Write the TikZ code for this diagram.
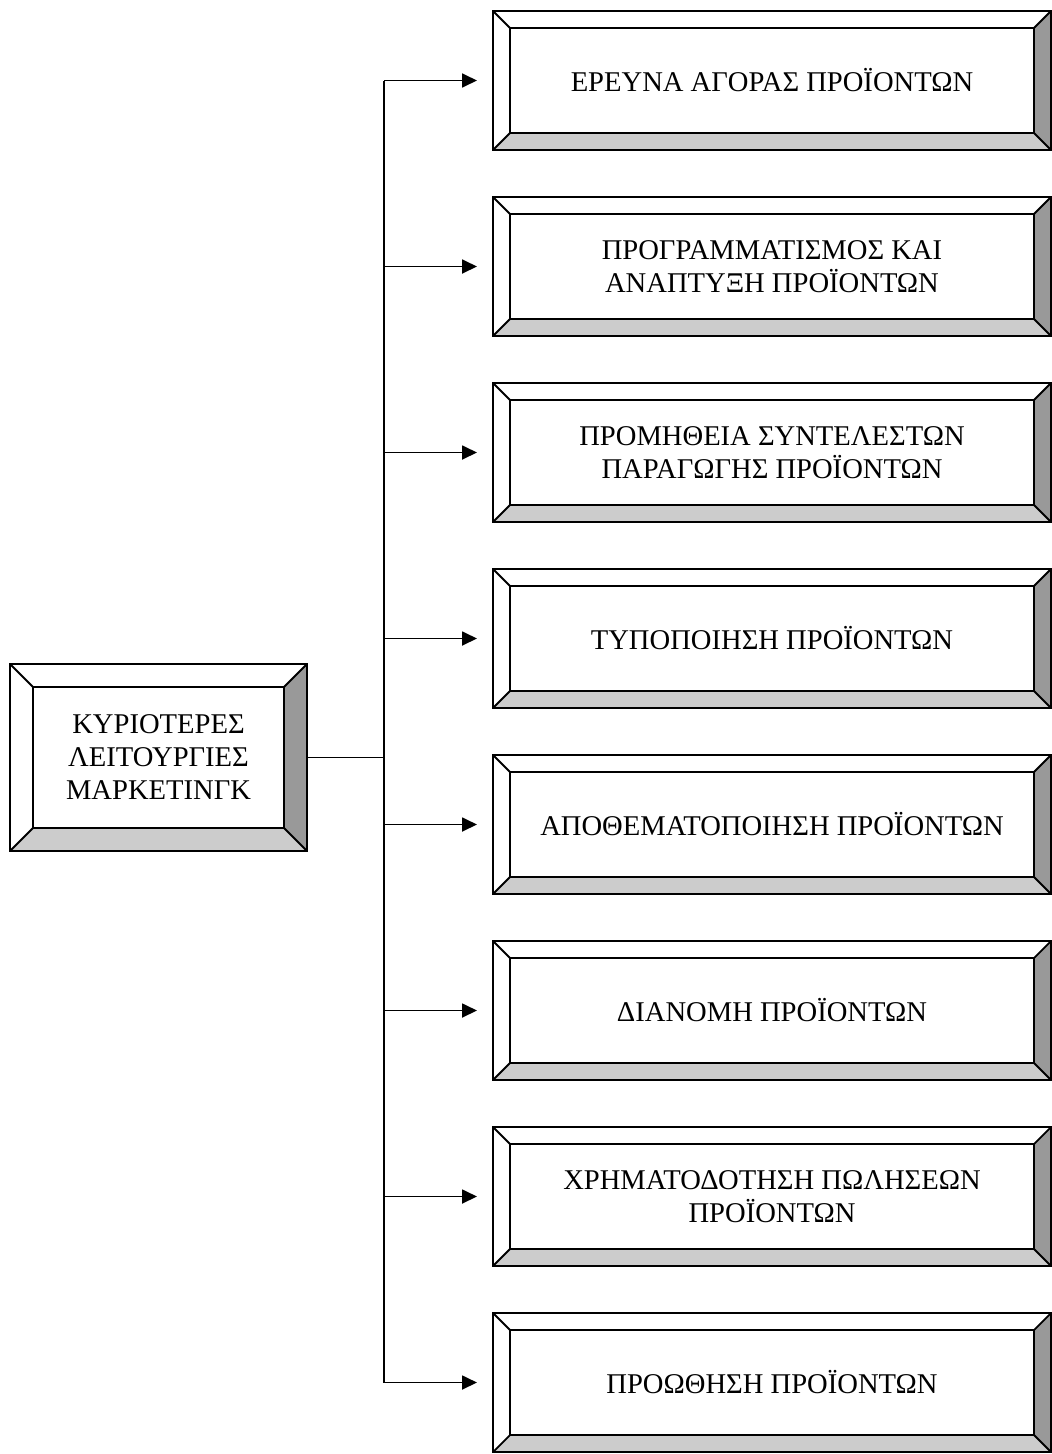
\documentclass[tikz,border=0pt]{standalone}
\usepackage{fontspec}
\setmainfont{Liberation Serif}
\usepackage{xcolor}
\usetikzlibrary{positioning,arrows.meta}

\definecolor{bevchiaro}{HTML}{CCCCCC}
\definecolor{bevscuro}{HTML}{999999}

% cornice a rilievo attorno a un nodo: #1 nome, #2 spessore
\newcommand{\cornice}[2]{%
	\fill[bevchiaro] (#1.south west) -- ([shift={(#2,#2)}]#1.south west) -- ([shift={(-#2,#2)}]#1.south east) -- (#1.south east) -- cycle;
	\fill[bevscuro] (#1.south east) -- ([shift={(-#2,#2)}]#1.south east) -- ([shift={(-#2,-#2)}]#1.north east) -- (#1.north east) -- cycle;
	\draw (#1.south west) rectangle (#1.north east);
	\draw ([shift={(#2,#2)}]#1.south west) rectangle ([shift={(-#2,-#2)}]#1.north east);
	\draw (#1.south west) -- ([shift={(#2,#2)}]#1.south west);
	\draw (#1.south east) -- ([shift={(-#2,#2)}]#1.south east);
	\draw (#1.north west) -- ([shift={(#2,-#2)}]#1.north west);
	\draw (#1.north east) -- ([shift={(-#2,-#2)}]#1.north east);
}

\begin{document}
\begin{tikzpicture}[x=1pt, y=-1pt, line width=1.8pt,
	riquadro/.style={minimum width=558pt, minimum height=139pt, inner sep=0pt, outer sep=0pt, align=center, font=\fontsize{28.6}{33}\selectfont},
	freccia/.style={-{Triangle[length=15pt, width=14pt]}}]
	\useasboundingbox (0,0) rectangle (1052,1454);
	
	% riquadri
	\node[riquadro, minimum width=297pt, minimum height=187pt] (marketing) at (158.5,757.5) {ΚΥΡΙΟΤΕΡΕΣ\\ΛΕΙΤΟΥΡΓΙΕΣ\\ΜΑΡΚΕΤΙΝΓΚ};
	\node[riquadro] (ricerca) at (772,80.5) {ΕΡΕΥΝΑ ΑΓΟΡΑΣ ΠΡΟΪΟΝΤΩΝ};
	\node[riquadro, below=47pt of ricerca] (sviluppo) {ΠΡΟΓΡΑΜΜΑΤΙΣΜΟΣ ΚΑΙ\\ΑΝΑΠΤΥΞΗ ΠΡΟΪΟΝΤΩΝ};
	\node[riquadro, below=47pt of sviluppo] (fornitura) {ΠΡΟΜΗΘΕΙΑ ΣΥΝΤΕΛΕΣΤΩΝ\\ΠΑΡΑΓΩΓΗΣ ΠΡΟΪΟΝΤΩΝ};
	\node[riquadro, below=47pt of fornitura] (tipizzazione) {ΤΥΠΟΠΟΙΗΣΗ ΠΡΟΪΟΝΤΩΝ};
	\node[riquadro, below=47pt of tipizzazione] (scorte) {ΑΠΟΘΕΜΑΤΟΠΟΙΗΣΗ ΠΡΟΪΟΝΤΩΝ};
	\node[riquadro, below=47pt of scorte] (distribuzione) {ΔΙΑΝΟΜΗ ΠΡΟΪΟΝΤΩΝ};
	\node[riquadro, below=47pt of distribuzione] (credito) {ΧΡΗΜΑΤΟΔΟΤΗΣΗ ΠΩΛΗΣΕΩΝ\\ΠΡΟΪΟΝΤΩΝ};
	\node[riquadro, below=47pt of credito] (promozione) {ΠΡΟΩΘΗΣΗ ΠΡΟΪΟΝΤΩΝ};
	
	% cornici
	\cornice{marketing}{23pt}
	\foreach \n in {ricerca,sviluppo,fornitura,tipizzazione,scorte,distribuzione,credito,promozione}
		{\cornice{\n}{17pt}}
	
	% collegamenti
	\coordinate (snodo) at (384,757.5);
	\draw (marketing) -- (snodo);
	\draw (snodo |- ricerca.west) -- (snodo |- promozione.west);
	\foreach \n in {ricerca,sviluppo,fornitura,tipizzazione,scorte,distribuzione,credito,promozione}
		\draw[freccia] (snodo |- \n.west) -- ([xshift=-16pt]\n.west);
	
\end{tikzpicture}
\end{document}
